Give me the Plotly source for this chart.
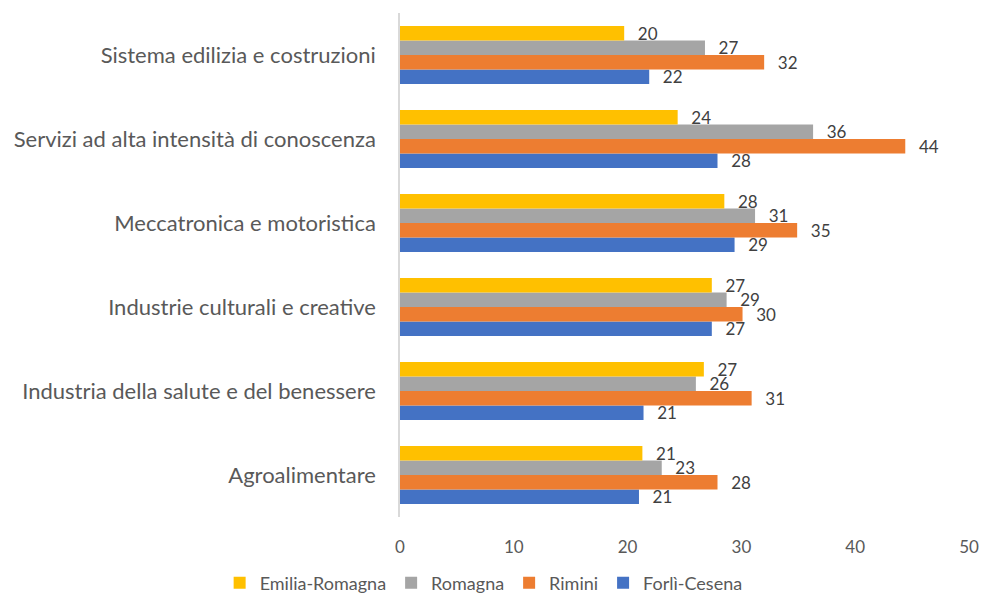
import plotly.graph_objects as go

categories = [
    "Agroalimentare",
    "Industria della salute e del benessere",
    "Industrie culturali e creative",
    "Meccatronica e motoristica",
    "Servizi ad alta intensità di conoscenza",
    "Sistema edilizia e costruzioni",
]

forli_cesena = [21.0, 21.4, 27.4, 29.4, 27.9, 21.9]
rimini = [27.9, 30.9, 30.1, 34.9, 44.4, 32.0]
romagna = [23.0, 26.0, 28.7, 31.2, 36.3, 26.8]
emilia_romagna = [21.3, 26.7, 27.4, 28.5, 24.4, 19.7]

series_names = ["Forlì-Cesena", "Rimini", "Romagna", "Emilia-Romagna"]
series_values = [forli_cesena, rimini, romagna, emilia_romagna]
series_colors = ["#4472C4", "#ED7D31", "#A5A5A5", "#FFC000"]

x_ticks = [0, 10, 20, 30, 40, 50]

FONT = "Lato, 'Open Sans', sans-serif"
TXT = "#595959"

fig = go.Figure()
for name, vals, col in zip(series_names, series_values, series_colors):
    fig.add_trace(go.Bar(
        y=categories, x=vals, name=name, orientation="h",
        marker=dict(color=col, line=dict(width=0)),
        text=["\u2002\u2009" + f"{round(v):d}" for v in vals],
        textposition="outside",
        constraintext="none",
        textfont=dict(family=FONT, size=17, color="#404040"),
        cliponaxis=False,
    ))

fig.update_layout(
    width=983, height=593,
    barmode="group",
    bargap=0.31,
    bargroupgap=0,
    plot_bgcolor="white",
    paper_bgcolor="white",
    margin=dict(l=400, r=14, t=13, b=76, autoexpand=False),
    font=dict(family=FONT, color=TXT),
    showlegend=True,
    legend=dict(
        orientation="h", traceorder="reversed",
        xref="container", yref="paper",
        x=0.492, xanchor="center", y=-0.131, yanchor="middle",
        font=dict(family=FONT, size=18, color=TXT),
    ),
    xaxis=dict(
        range=[0, 50], tickvals=x_ticks, ticktext=[str(t) for t in x_ticks],
        showgrid=False, zeroline=False, showline=False,
        tickfont=dict(family=FONT, size=17, color=TXT),
        ticks="", automargin=False, ticklabelstandoff=18,
        ticklabeloverflow="allow",
    ),
    yaxis=dict(
        showgrid=False, zeroline=False,
        showline=True, linecolor="#D9D9D9", linewidth=1.5,
        ticks="", ticklabelstandoff=18,
        tickfont=dict(family=FONT, size=22, color=TXT),
        automargin=False,
    ),
)

fig.write_html(
    "out.html",
    config={"displayModeBar": False},
    post_script="document.body.style.margin='0';document.body.style.overflow='hidden';",
)
